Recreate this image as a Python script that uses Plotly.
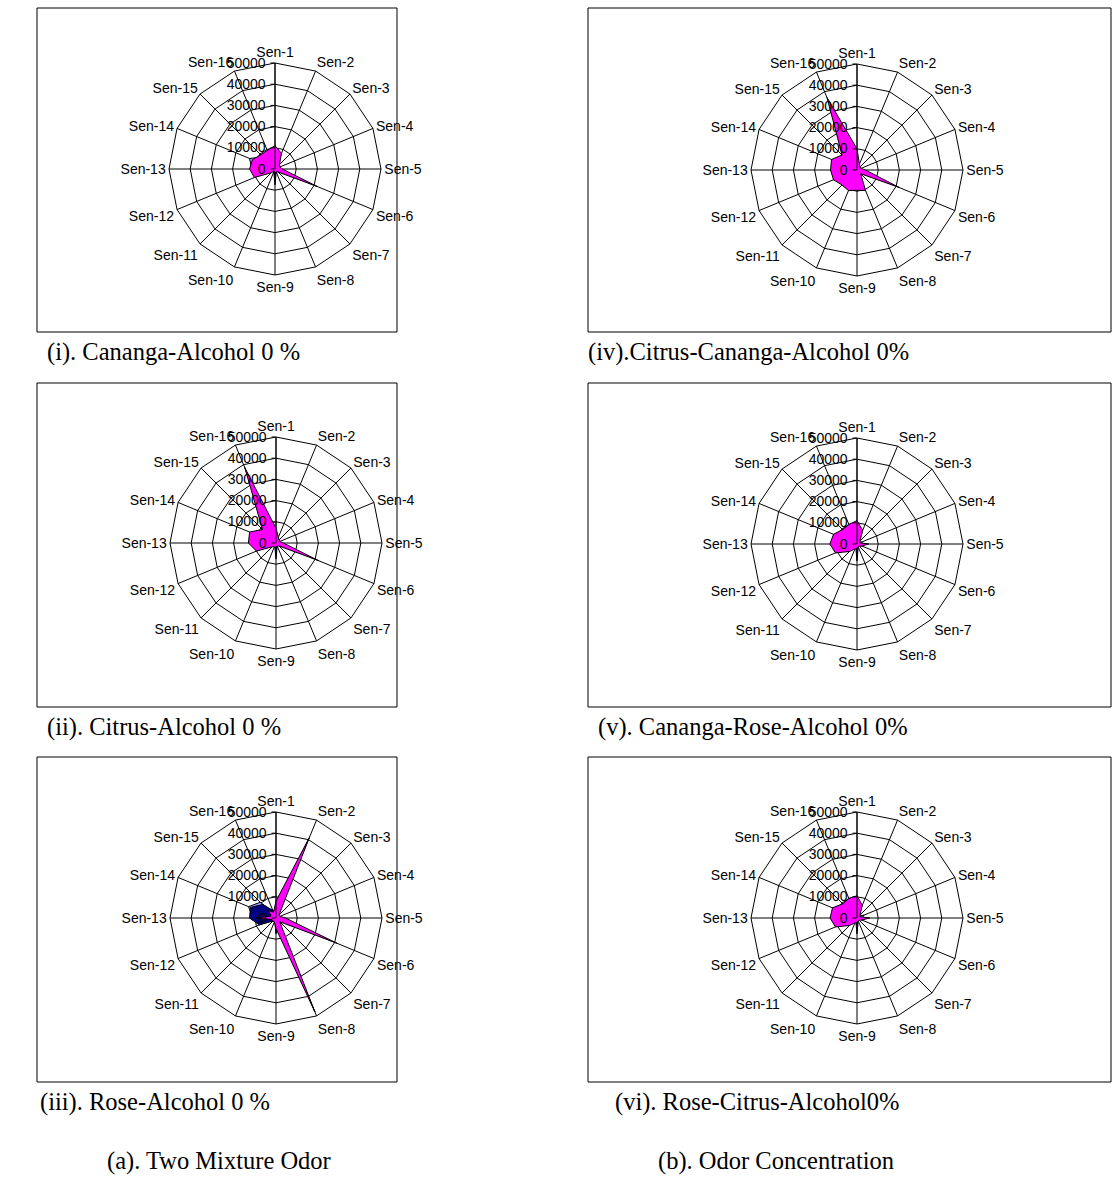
import plotly.graph_objects as go

W, H = 1113, 1189

sensors = ["Sen-1", "Sen-2", "Sen-3", "Sen-4", "Sen-5", "Sen-6", "Sen-7", "Sen-8",
           "Sen-9", "Sen-10", "Sen-11", "Sen-12", "Sen-13", "Sen-14", "Sen-15", "Sen-16"]
radial_ticks = [0, 10000, 20000, 30000, 40000, 50000]
radial_tick_text = ["0", "10000", "20000", "30000", "40000", "50000"]

# (i) Cananga-Alcohol 0 %
cananga_run1 = [3000, 1500, 1000, 1000, 1000, 1500, 800, 800, 1000, 500, 1000, 8000, 11000, 13000, 8000, 6000]
cananga_run2 = [4000, 2000, 1000, 1000, 1500, 2000, 1000, 1500, 7500, 1500, 1000, 6000, 9000, 9000, 6000, 5000]
cananga_run3 = [11000, 8000, 3000, 2500, 3500, 21500, 2000, 1500, 2000, 1000, 2500, 10500, 12000, 11500, 9500, 9500]

# (ii) Citrus-Alcohol 0 %
citrus_run1 = [2500, 1500, 1000, 1000, 1500, 5000, 1000, 1000, 1500, 1000, 1500, 5000, 7000, 7000, 4000, 12000]
citrus_run2 = [3000, 1500, 1000, 1000, 1500, 6000, 1000, 1500, 7500, 1500, 1500, 6000, 8000, 8000, 5000, 15000]
citrus_run3 = [7000, 3000, 2000, 2000, 3500, 21500, 2000, 1500, 2000, 2000, 2500, 10000, 13000, 13500, 9000, 38500]

# (iii) Rose-Alcohol 0 %
rose_run1 = [2000, 2000, 1000, 1000, 1500, 1500, 1000, 1500, 1000, 1000, 1500, 8000, 11000, 14000, 10500, 3000]
rose_run2 = [3000, 3000, 1000, 1000, 2000, 2000, 1000, 2000, 7500, 1500, 2000, 8500, 12500, 13000, 9000, 4000]
rose_run3 = [8000, 41000, 2000, 2000, 4500, 31000, 2500, 48000, 5000, 2000, 2000, 2000, 9500, 2500, 5000, 3000]

# (iv) Citrus-Cananga-Alcohol 0%
citrus_cananga_run1 = [4000, 1500, 1000, 1000, 1500, 6000, 1000, 3000, 3000, 3000, 4000, 7000, 8000, 8000, 5000, 12000]
citrus_cananga_run2 = [5000, 1500, 1000, 1000, 2000, 8000, 1000, 4000, 7500, 4000, 5000, 8000, 9000, 9000, 6000, 15000]
citrus_cananga_run3 = [10000, 3000, 2000, 2000, 4000, 21500, 2500, 10500, 9500, 10500, 10000, 12000, 12500, 13000, 10000, 37000]

# (v) Cananga-Rose-Alcohol 0%
cananga_rose_run1 = [3000, 1500, 1000, 2500, 2500, 1000, 800, 800, 1000, 800, 1500, 5000, 7000, 7000, 4000, 4000]
cananga_rose_run2 = [4000, 2000, 1000, 1500, 3500, 1500, 1000, 1500, 8000, 1500, 2000, 6000, 8000, 8000, 5000, 5000]
cananga_rose_run3 = [11000, 7000, 2000, 1500, 5500, 2500, 1500, 1500, 2000, 2500, 5000, 11000, 12800, 12000, 9600, 10000]

# (vi) Rose-Citrus-Alcohol 0%
rose_citrus_run1 = [3000, 2000, 1500, 3500, 2500, 1000, 800, 800, 1000, 800, 1500, 5000, 7000, 7000, 4000, 4000]
rose_citrus_run2 = [4000, 2000, 1000, 1500, 3500, 1500, 1000, 1500, 7500, 1500, 2000, 6000, 8000, 8000, 5000, 5000]
rose_citrus_run3 = [10500, 6500, 2000, 1500, 6000, 2500, 1500, 1500, 2000, 2500, 5000, 11000, 12700, 12500, 9500, 10000]

captions = ["(i). Cananga-Alcohol 0 %", "(iv).Citrus-Cananga-Alcohol 0%",
            "(ii). Citrus-Alcohol 0 %", "(v). Cananga-Rose-Alcohol 0%",
            "(iii). Rose-Alcohol 0 %", "(vi). Rose-Citrus-Alcohol0%"]
footer_labels = ["(a). Two Mixture Odor", "(b). Odor Concentration"]

run_colors = ["#9999FF", "#000080", "#FF00FF"]

panels = [
    (cananga_run1, cananga_run2, cananga_run3),
    (citrus_cananga_run1, citrus_cananga_run2, citrus_cananga_run3),
    (citrus_run1, citrus_run2, citrus_run3),
    (cananga_rose_run1, cananga_rose_run2, cananga_rose_run3),
    (rose_run1, rose_run2, rose_run3),
    (rose_citrus_run1, rose_citrus_run2, rose_citrus_run3),
]

# layout in pixels: radar centres, frame boxes, caption anchors
centres = [(275, 169), (857, 170), (276, 543), (857, 544), (276, 918), (857, 918)]
R = 106
boxes = [(37, 8, 397, 332), (588, 8, 1111, 332),
         (37, 383, 397, 707), (588, 383, 1111, 707),
         (37, 757, 397, 1082), (588, 757, 1111, 1082)]
caption_pos = [(45, 352), (586, 352), (45, 727), (596, 727), (38, 1102), (613, 1102)]
footer_pos = [(105, 1161), (656, 1161)]

label_font = dict(family="Liberation Sans, Arial", size=14, color="black")

fig = go.Figure()

for i, (runs, (cx, cy)) in enumerate(zip(panels, centres)):
    pname = "polar" if i == 0 else f"polar{i + 1}"
    for vals, col in zip(runs, run_colors):
        fig.add_trace(go.Scatterpolar(
            r=list(vals) + [vals[0]],
            theta=sensors + [sensors[0]],
            fill="toself", fillcolor=col,
            mode="lines", line=dict(color="black", width=1),
            subplot=pname, showlegend=False, hoverinfo="skip"))
    fig.layout[pname] = dict(
        domain=dict(x=[(cx - R) / W, (cx + R) / W],
                    y=[1 - (cy + R) / H, 1 - (cy - R) / H]),
        gridshape="linear",
        bgcolor="white",
        angularaxis=dict(
            categoryorder="array", categoryarray=sensors,
            rotation=90, direction="clockwise",
            showline=True, linecolor="black", linewidth=1,
            gridcolor="black", gridwidth=1, ticks="",
            tickfont=label_font),
        radialaxis=dict(
            range=[0, 50000], tickvals=radial_ticks, ticktext=radial_tick_text,
            angle=90, side="counterclockwise", tickangle=90,
            showline=True, linecolor="black", linewidth=1,
            gridcolor="black", gridwidth=1,
            ticks="outside", ticklen=4, tickcolor="black",
            tickfont=label_font),
    )

shapes = []
for (x0, y0, x1, y1) in boxes:
    shapes.append(dict(type="rect", xref="paper", yref="paper",
                       x0=x0 / W, x1=x1 / W, y0=1 - y1 / H, y1=1 - y0 / H,
                       line=dict(color="black", width=1), fillcolor="rgba(0,0,0,0)",
                       layer="below"))

annotations = []
for text, (px, py) in zip(captions + footer_labels, caption_pos + footer_pos):
    annotations.append(dict(text=text, xref="paper", yref="paper",
                            x=px / W, y=1 - py / H, xanchor="left", yanchor="middle",
                            showarrow=False,
                            font=dict(family="Liberation Serif, Times New Roman", size=24.5,
                                      color="black")))

fig.update_layout(width=W, height=H, margin=dict(l=0, r=0, t=0, b=0),
                  paper_bgcolor="white", plot_bgcolor="white",
                  shapes=shapes, annotations=annotations)

fig.write_html("out.html")
